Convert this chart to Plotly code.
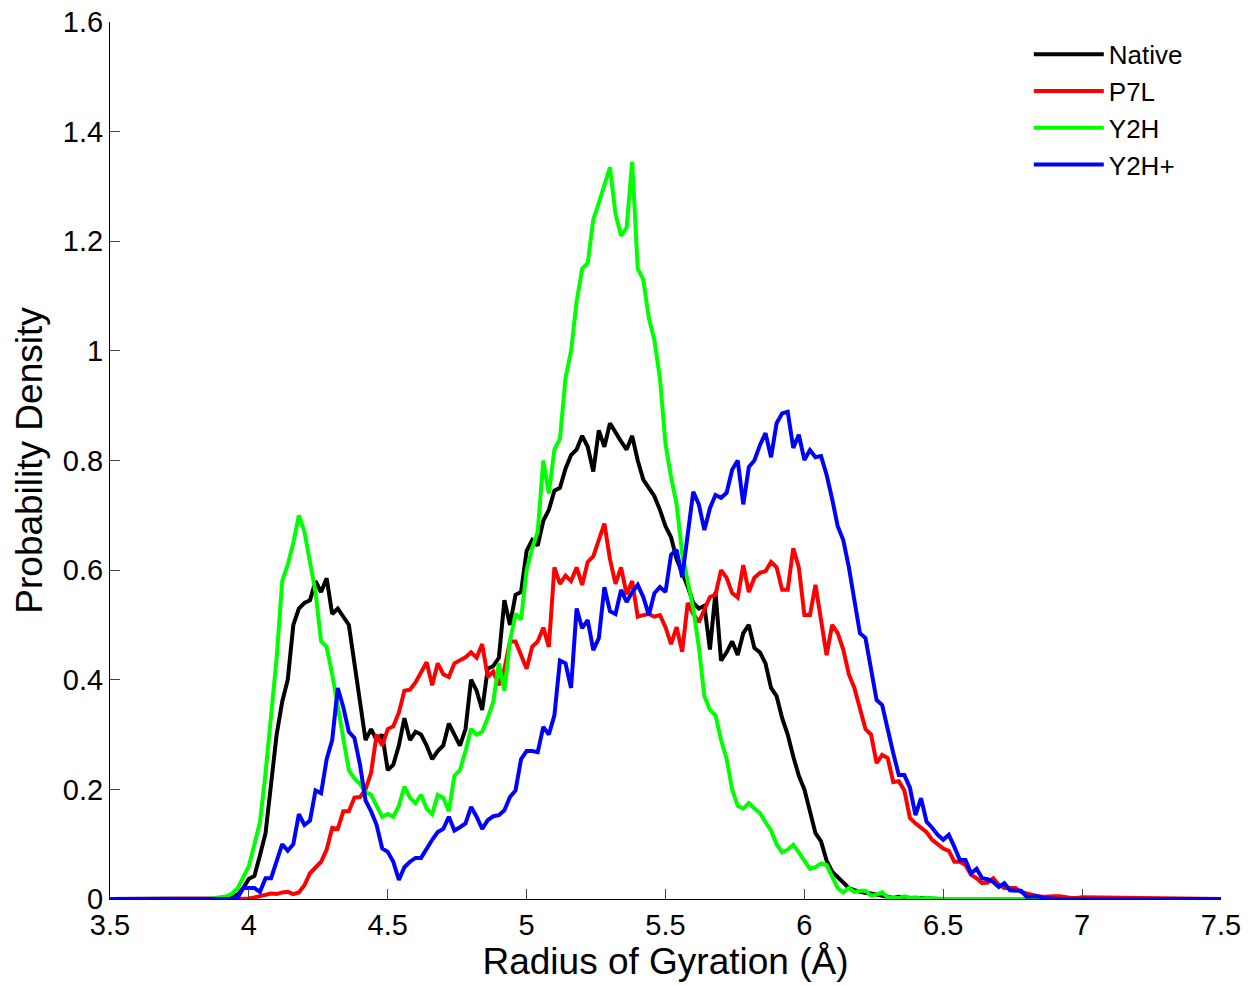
import numpy as np
import plotly.graph_objects as go

# Radius of gyration grid (Å): 3.86 .. 7.00 in steps of 0.02, plus axis end points
x_start, x_step = 3.86, 0.02
x_min, x_max = 3.5, 7.5

native = [
    0, 0.001, 0.002, 0.003, 0.005, 0.008, 0.02, 0.037, 0.042, 0.08,
    0.12, 0.21, 0.30, 0.36, 0.40, 0.50, 0.53, 0.54, 0.545, 0.58,
    0.56, 0.585, 0.52, 0.53, 0.515, 0.50, 0.43, 0.36, 0.29, 0.31,
    0.29, 0.30, 0.235, 0.245, 0.28, 0.33, 0.29, 0.305, 0.30, 0.28,
    0.255, 0.27, 0.28, 0.32, 0.30, 0.28, 0.31, 0.40, 0.38, 0.345,
    0.42, 0.425, 0.44, 0.545, 0.50, 0.555, 0.56, 0.635, 0.655, 0.645,
    0.69, 0.71, 0.745, 0.75, 0.785, 0.81, 0.82, 0.845, 0.825, 0.78,
    0.855, 0.825, 0.868, 0.85, 0.835, 0.82, 0.845, 0.80, 0.765, 0.75,
    0.735, 0.71, 0.68, 0.66, 0.62, 0.595, 0.57, 0.54, 0.53, 0.535,
    0.455, 0.56, 0.435, 0.45, 0.47, 0.445, 0.485, 0.50, 0.458, 0.45,
    0.43, 0.385, 0.37, 0.33, 0.30, 0.26, 0.225, 0.20, 0.16, 0.12,
    0.105, 0.07, 0.05, 0.04, 0.028, 0.02, 0.016, 0.013, 0.011, 0.01,
    0.008, 0.005, 0.003, 0.002, 0.004, 0.003, 0.002, 0.001, 0.002, 0.001,
    0, 0, 0, 0, 0, 0, 0, 0, 0, 0,
    0, 0, 0, 0, 0, 0, 0, 0, 0, 0,
    0, 0, 0, 0, 0, 0, 0, 0,
]

p7l = [
    0, 0, 0, 0, 0, 0, 0, 0.001, 0.003, 0.005,
    0.008, 0.01, 0.009, 0.012, 0.013, 0.009, 0.012, 0.025, 0.047, 0.058,
    0.068, 0.09, 0.13, 0.128, 0.16, 0.16, 0.185, 0.186, 0.20, 0.23,
    0.30, 0.28, 0.31, 0.315, 0.34, 0.38, 0.382, 0.395, 0.415, 0.432,
    0.39, 0.43, 0.41, 0.405, 0.43, 0.436, 0.441, 0.45, 0.44, 0.465,
    0.405, 0.415, 0.39, 0.42, 0.47, 0.47, 0.445, 0.42, 0.46, 0.47,
    0.495, 0.46, 0.605, 0.575, 0.59, 0.58, 0.605, 0.573, 0.615, 0.625,
    0.655, 0.685, 0.62, 0.575, 0.605, 0.556, 0.58, 0.515, 0.518, 0.52,
    0.515, 0.518, 0.496, 0.465, 0.496, 0.451, 0.54, 0.52, 0.505, 0.527,
    0.551, 0.555, 0.60, 0.586, 0.558, 0.55, 0.609, 0.56, 0.586, 0.595,
    0.598, 0.615, 0.605, 0.564, 0.564, 0.64, 0.605, 0.518, 0.518, 0.573,
    0.51, 0.445, 0.50, 0.485, 0.455, 0.41, 0.385, 0.345, 0.31, 0.30,
    0.248, 0.263, 0.257, 0.213, 0.215, 0.198, 0.148, 0.138, 0.13, 0.122,
    0.108, 0.099, 0.092, 0.088, 0.068, 0.068, 0.062, 0.044, 0.038, 0.029,
    0.03, 0.038, 0.026, 0.02, 0.02, 0.02, 0.013, 0.01, 0.007, 0.005,
    0.004, 0.005, 0.005, 0.005, 0.003, 0.002, 0.002, 0.003,
]

y2h = [
    0, 0.002, 0.003, 0.005, 0.01, 0.02, 0.04, 0.06, 0.10, 0.14,
    0.23, 0.33, 0.44, 0.58, 0.61, 0.65, 0.70, 0.67, 0.61, 0.56,
    0.47, 0.46, 0.41, 0.35, 0.29, 0.235, 0.22, 0.21, 0.195, 0.19,
    0.17, 0.15, 0.155, 0.15, 0.17, 0.205, 0.185, 0.175, 0.19, 0.165,
    0.155, 0.19, 0.185, 0.16, 0.225, 0.235, 0.27, 0.31, 0.30, 0.305,
    0.33, 0.36, 0.43, 0.38, 0.47, 0.52, 0.51, 0.60, 0.64, 0.67,
    0.80, 0.74, 0.82, 0.84, 0.95, 1.00, 1.09, 1.15, 1.16, 1.24,
    1.27, 1.30, 1.335, 1.25, 1.21, 1.225, 1.345, 1.15, 1.13, 1.06,
    1.02, 0.95, 0.83, 0.77, 0.72, 0.63, 0.58, 0.53, 0.46, 0.37,
    0.345, 0.335, 0.29, 0.256, 0.20, 0.17, 0.165, 0.175, 0.165, 0.157,
    0.14, 0.125, 0.10, 0.085, 0.09, 0.099, 0.085, 0.07, 0.055, 0.058,
    0.065, 0.062, 0.04, 0.02, 0.012, 0.02, 0.013, 0.015, 0.015, 0.006,
    0.008, 0.012, 0.003, 0.003, 0.002, 0.005, 0.002, 0.003, 0.001, 0.002,
    0.001, 0, 0, 0, 0, 0, 0, 0, 0, 0,
    0, 0, 0, 0, 0, 0, 0, 0, 0, 0,
    0, 0, 0, 0, 0, 0, 0, 0,
]

y2h_plus = [
    0, 0, 0, 0, 0, 0.003, 0.02, 0.02, 0.02, 0.013,
    0.038, 0.038, 0.068, 0.10, 0.088, 0.10, 0.155, 0.135, 0.143, 0.198,
    0.193, 0.255, 0.29, 0.385, 0.35, 0.305, 0.294, 0.245, 0.18, 0.16,
    0.135, 0.092, 0.086, 0.068, 0.035, 0.058, 0.068, 0.075, 0.075, 0.093,
    0.108, 0.122, 0.128, 0.15, 0.125, 0.131, 0.138, 0.168, 0.15, 0.128,
    0.144, 0.151, 0.153, 0.162, 0.186, 0.198, 0.255, 0.27, 0.27, 0.268,
    0.314, 0.30, 0.335, 0.435, 0.43, 0.385, 0.53, 0.494, 0.509, 0.454,
    0.476, 0.569, 0.525, 0.52, 0.564, 0.542, 0.56, 0.573, 0.551, 0.518,
    0.558, 0.569, 0.56, 0.628, 0.637, 0.587, 0.664, 0.743, 0.72, 0.673,
    0.713, 0.737, 0.732, 0.741, 0.783, 0.80, 0.72, 0.788, 0.80, 0.828,
    0.85, 0.806, 0.868, 0.886, 0.889, 0.823, 0.847, 0.801, 0.819, 0.806,
    0.808, 0.774, 0.73, 0.68, 0.655, 0.606, 0.545, 0.485, 0.476, 0.42,
    0.363, 0.354, 0.308, 0.266, 0.226, 0.226, 0.203, 0.153, 0.184, 0.141,
    0.13, 0.117, 0.108, 0.117, 0.095, 0.071, 0.071, 0.047, 0.055, 0.038,
    0.036, 0.031, 0.022, 0.029, 0.016, 0.016, 0.015, 0.004, 0.004, 0.005,
    0.002, 0.001, 0, 0, 0, 0, 0, 0,
]

series_names = ["Native", "P7L", "Y2H", "Y2H+"]
series_values = [native, p7l, y2h, y2h_plus]
series_colors = ["#000000", "#ff0000", "#00ff00", "#0000ff"]

x_ticks = [3.5, 4, 4.5, 5, 5.5, 6, 6.5, 7, 7.5]
y_ticks = [0, 0.2, 0.4, 0.6, 0.8, 1, 1.2, 1.4, 1.6]

n = len(native)
grid = [round(x_start + i * x_step, 2) for i in range(n)]
x_full = [x_min] + grid + [x_max]

FONT = "Liberation Sans, Arial, Helvetica, sans-serif"

fig = go.Figure()
for name, vals, col in zip(series_names, series_values, series_colors):
    assert len(vals) == n, name
    fig.add_trace(go.Scatter(
        x=x_full, y=[0] + list(vals) + [0], mode="lines", name=name,
        line=dict(color=col, width=4),
    ))

fig.update_layout(
    width=1249, height=985,
    margin=dict(l=110, r=28, t=22, b=86),
    paper_bgcolor="white", plot_bgcolor="white",
    font=dict(family=FONT, size=28, color="#000000"),
    showlegend=True,
    legend=dict(
        x=0.827, y=0.99, xanchor="left", yanchor="top",
        bgcolor="rgba(255,255,255,0)", borderwidth=0,
        font=dict(family=FONT, size=26, color="#000000"),
        itemwidth=70, tracegroupgap=0,
    ),
    xaxis=dict(
        range=[x_min, x_max], tickvals=x_ticks,
        ticktext=[f"{v:g}" for v in x_ticks],
        showgrid=False, zeroline=False, automargin=False,
        ticklabeloverflow="allow",
        showline=True, linecolor="#000000", linewidth=1, mirror=False,
        ticks="inside", ticklen=10, tickcolor="#444444", tickwidth=1,
        tickfont=dict(family=FONT, size=29),
        title=dict(text="Radius of Gyration (Å)", font=dict(family=FONT, size=37), standoff=6),
    ),
    yaxis=dict(
        range=[0, 1.6], tickvals=y_ticks,
        ticktext=[f"{v:g}" for v in y_ticks],
        showgrid=False, zeroline=False, automargin=False,
        ticklabeloverflow="allow",
        showline=True, linecolor="#000000", linewidth=1, mirror=False,
        ticks="inside", ticklen=10, tickcolor="#444444", tickwidth=1,
        tickfont=dict(family=FONT, size=29),
        title=dict(text="Probability Density", font=dict(family=FONT, size=37), standoff=8),
    ),
)

# remove the page's default 8px body margin so the figure fills the window exactly
fig.write_html(
    "out.html",
    config={"displayModeBar": False},
    post_script="document.body.style.margin='0';",
)
